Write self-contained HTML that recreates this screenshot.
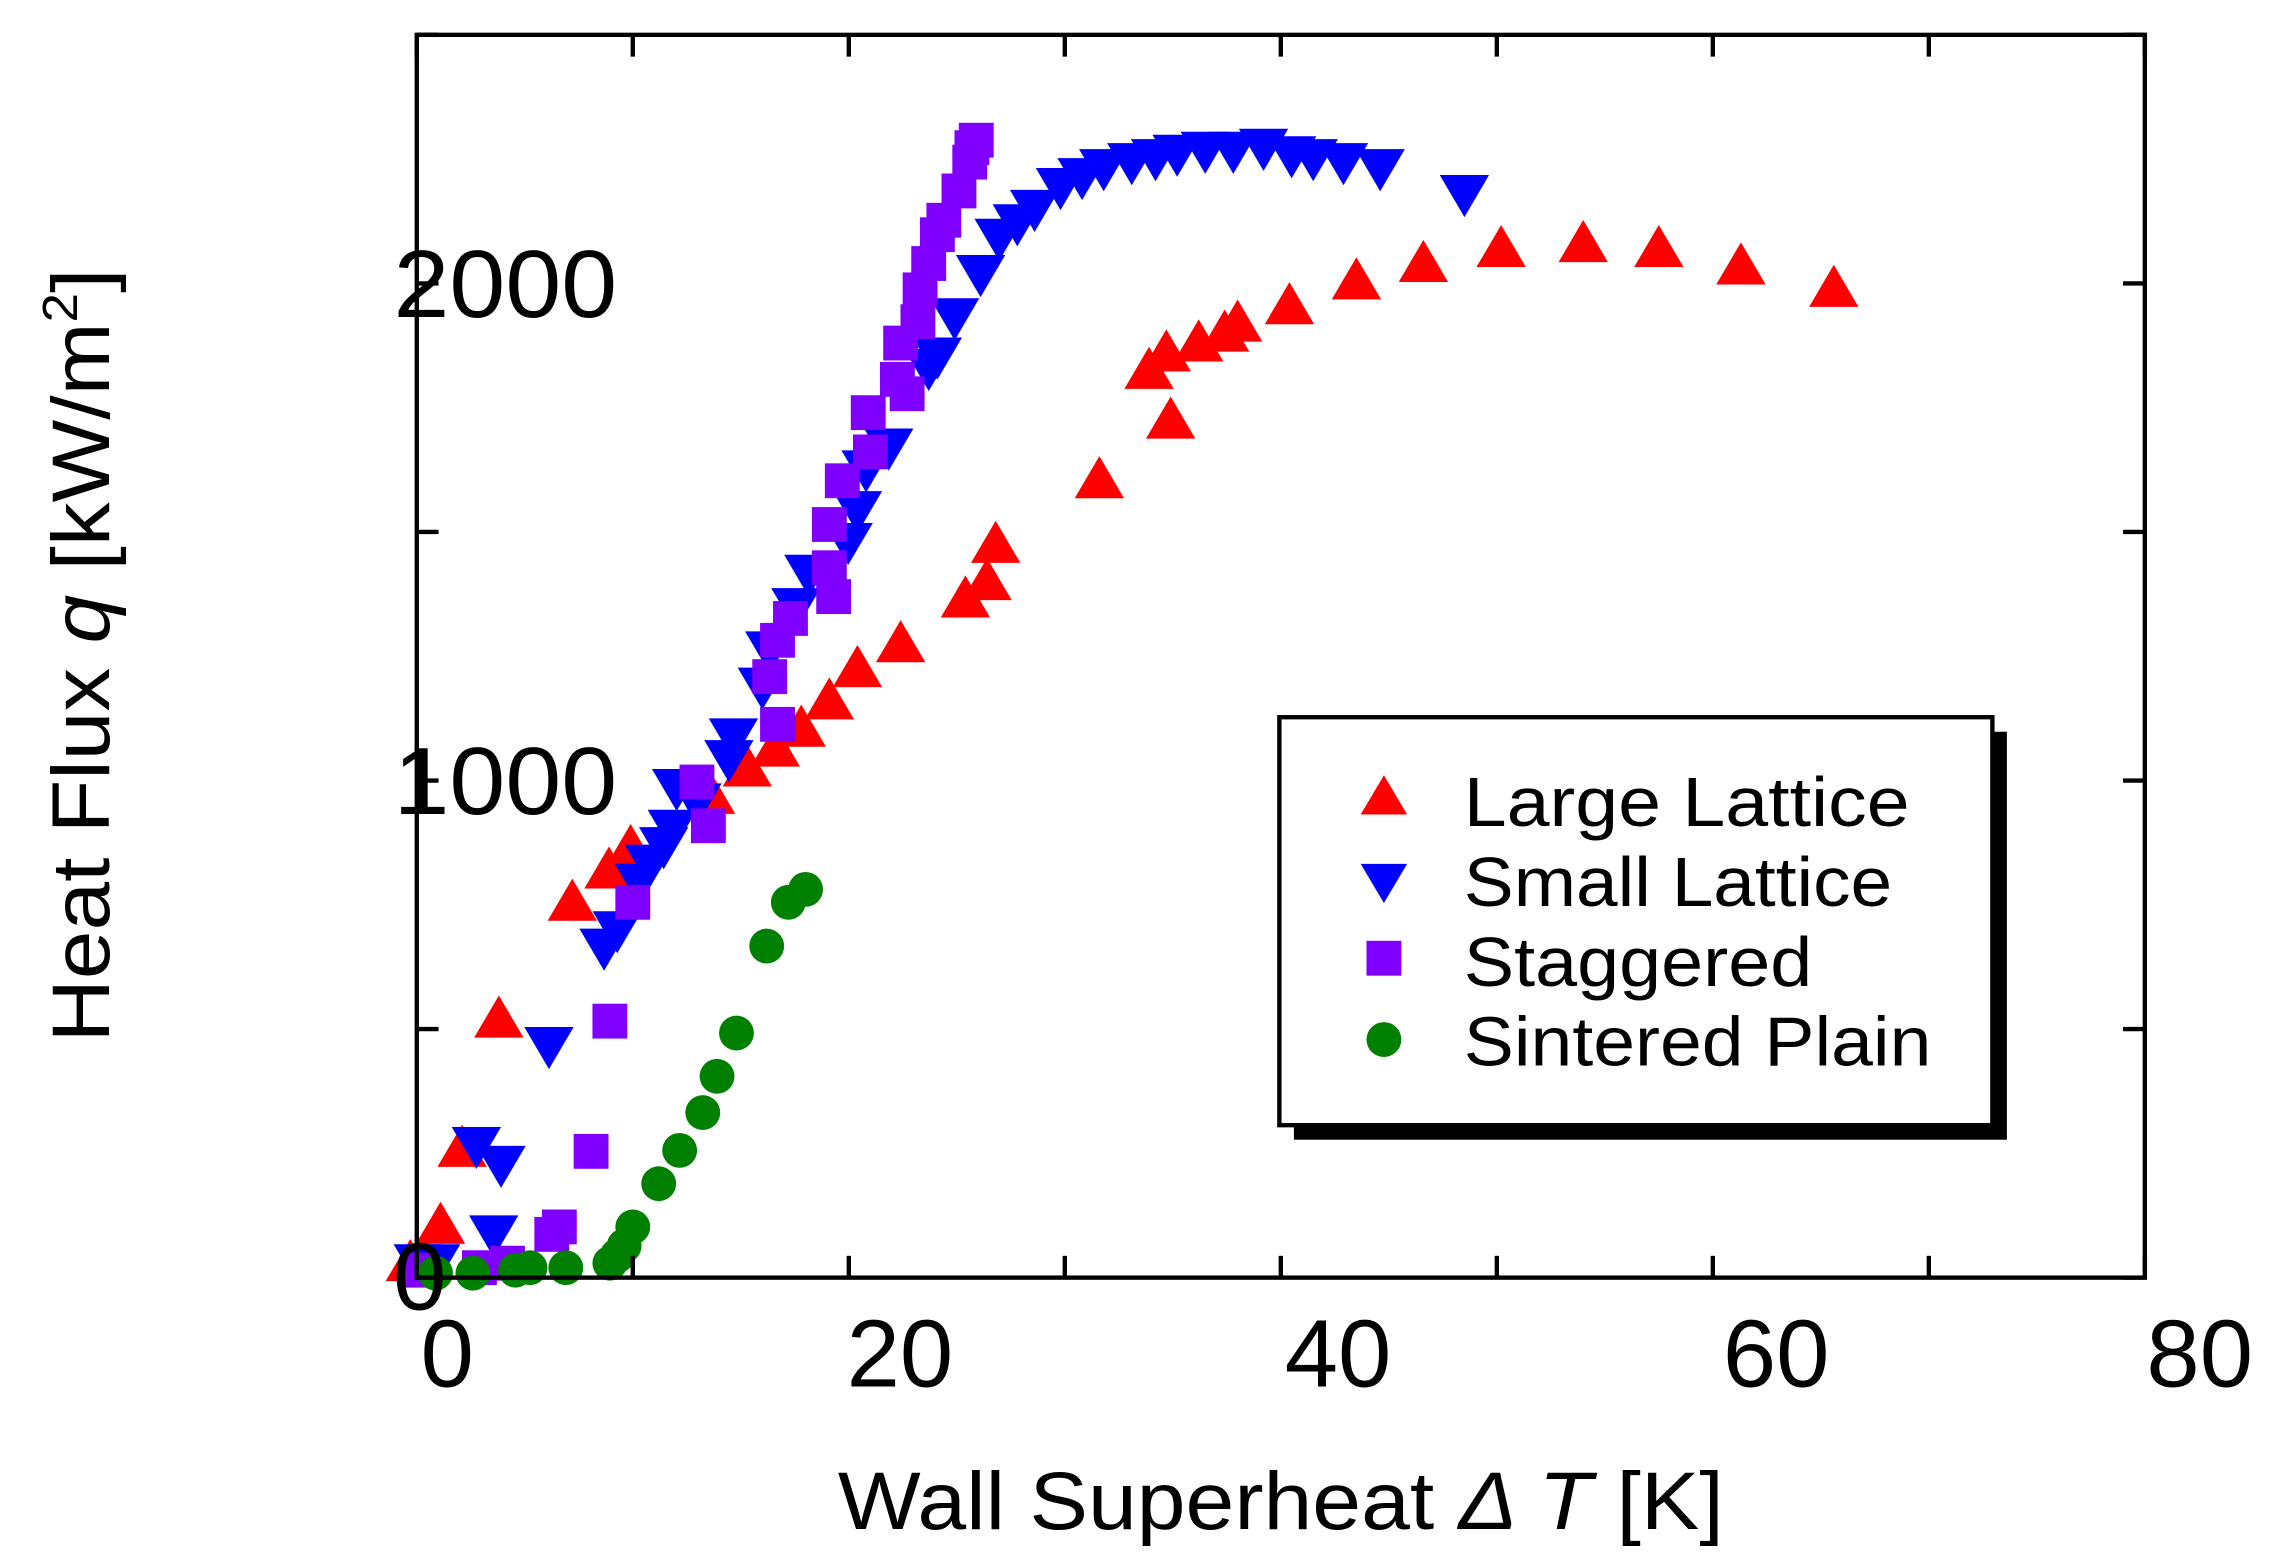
<!DOCTYPE html>
<html><head><meta charset="utf-8">
<style>html,body{margin:0;padding:0;background:#fff;}svg{display:block;}</style></head>
<body>
<svg id="chart" width="2277" height="1568" viewBox="0 0 1568 1080" preserveAspectRatio="none" xmlns="http://www.w3.org/2000/svg" font-family="Liberation Sans, Arial, sans-serif">
<rect x="0" y="0" width="1568" height="1080" fill="#fff"/>
<g id="marks"></g>
<rect x="287" y="24" width="1190" height="856" fill="none" stroke="#000" stroke-width="3"/>
<g id="axes"></g>
<text x="577" y="1053" font-size="56" textLength="610" lengthAdjust="spacingAndGlyphs">Wall Superheat <tspan font-style="italic">Δ T</tspan> [K]</text>
<text transform="translate(75,718) rotate(-90)" font-size="56" textLength="533" lengthAdjust="spacingAndGlyphs">Heat Flux <tspan font-style="italic">q</tspan> [kW/m<tspan font-size="34" dy="-22">2</tspan><tspan dy="22">]</tspan></text>
<g>
<rect x="891" y="504" width="491" height="281" fill="#000"/>
<rect x="881" y="494" width="491" height="281" fill="#fff" stroke="#000" stroke-width="3"/>
<polygon points="953,534 969,561 937,561" fill="#ff0000"/>
<text x="1008" y="569" font-size="48" textLength="307" lengthAdjust="spacingAndGlyphs">Large Lattice</text>
<polygon points="937,595 969,595 953,622" fill="#0000ff"/>
<text x="1008" y="624" font-size="48" textLength="295" lengthAdjust="spacingAndGlyphs">Small Lattice</text>
<rect x="941" y="648" width="24" height="24" fill="#8000ff"/>
<text x="1008" y="679" font-size="48" textLength="240" lengthAdjust="spacingAndGlyphs">Staggered</text>
<circle cx="953" cy="716" r="12" fill="#008000"/>
<text x="1008" y="734" font-size="48" textLength="322" lengthAdjust="spacingAndGlyphs">Sintered Plain</text>
</g>
</svg>
<script>
const largeX=[-0.3,1.1,2.1,3.8,7.2,8.9,9.9,13.6,15.3,16.6,17.8,19.1,20.4,22.4,25.4,26.4,26.8,31.6,33.9,34.7,34.9,36.2,37.4,38.0,40.4,43.5,46.6,50.2,54.0,57.5,61.3,65.6];
const largeY=[25,100,255,515,750,815,860,965,1020,1060,1100,1155,1220,1270,1360,1395,1470,1600,1820,1855,1720,1875,1895,1915,1950,2000,2035,2065,2075,2065,2030,1985];
const smallX=[0.07,0.87,2.76,3.9,3.56,6.12,8.67,9.28,10.3,10.76,11.43,11.83,12.03,12.97,14.45,14.66,16.0,16.34,17.55,18.15,19.97,20.4,20.8,21.85,23.7,24.1,24.9,26.1,26.96,27.8,28.6,29.8,30.8,31.8,33.1,34.2,35.2,36.5,37.8,39.2,40.5,41.5,42.9,44.6,48.5];
const smallY=[35,35,271,233,93,472,670,705,801,839,874,909,991,962,1049,1093,1195,1268,1355,1422,1486,1550,1632,1676,1836,1859,1938,2025,2098,2127,2156,2200,2220,2238,2250,2258,2267,2273,2273,2279,2264,2258,2250,2238,2186];
const stagX=[0.2,2.9,4.2,6.25,6.6,8.07,8.94,10.0,12.97,13.5,16.7,16.34,16.7,17.3,19.3,19.1,19.1,19.7,21.0,20.9,22.25,22.4,22.7,23.2,23.3,23.7,24.1,24.4,25.1,25.6,25.7,25.9];
const stagY=[15,20,29,87,102,254,516,755,997,909,1113,1209,1282,1326,1370,1428,1515,1603,1661,1740,1807,1880,1778,1923,1987,2040,2098,2127,2186,2244,2273,2288];
const sintX=[0.87,2.6,4.57,5.24,6.9,8.94,9.28,9.6,10.0,11.2,12.17,13.24,13.9,14.8,16.2,17.2,18.0];
const sintY=[9,9,15,20,20,29,44,64,102,189,256,332,405,492,667,755,781];
const xTicks=[0,10,20,30,40,50,60,70,80];
const xLabels=["0","20","40","60","80"];
const xLabelVals=[0,20,40,60,80];
const yTicks=[0,500,1000,1500,2000,2500];
const yLabels=["0","1000","2000"];
const yLabelVals=[0,1000,2000];

const NS="http://www.w3.org/2000/svg";
const X0=287,X1=1477,Y0=880,Y1=24;
function sx(v){return X0+(v-0)/(80-0)*(X1-X0);}
function sy(v){return Y0-(v-0)/(2500-0)*(Y0-Y1);}
function mk(tag,attrs,parent){const e=document.createElementNS(NS,tag);for(const k in attrs)e.setAttribute(k,attrs[k]);parent.appendChild(e);return e;}
const marks=document.getElementById('marks');
const axes=document.getElementById('axes');

for(let i=0;i<largeX.length;i++){const x=sx(largeX[i]),y=sy(largeY[i]);
 const p=mk('polygon',{points:`${x},${y-18} ${x+17},${y+11} ${x-17},${y+11}`,fill:'#ff0000'},marks);
 
 }
for(let i=0;i<smallX.length;i++){const x=sx(smallX[i]),y=sy(smallY[i]);
 const p=mk('polygon',{points:`${x-17},${y-11} ${x+17},${y-11} ${x},${y+18}`,fill:'#0000ff'},marks);
 
 }
for(let i=0;i<stagX.length;i++){const x=sx(stagX[i]),y=sy(stagY[i]);
 const p=mk('rect',{x:x-12,y:y-12,width:24,height:24,fill:'#8000ff'},marks);
 
 }
for(let i=0;i<sintX.length;i++){const x=sx(sintX[i]),y=sy(sintY[i]);
 const p=mk('circle',{cx:x,cy:y,r:12,fill:'#008000'},marks);
 
 }

xTicks.forEach(v=>{const x=sx(v);
 const t1=mk('line',{x1:x,y1:Y0,x2:x,y2:Y0-15,stroke:'#000','stroke-width':3},axes);
 
 
 const t2=mk('line',{x1:x,y1:Y1,x2:x,y2:Y1+15,stroke:'#000','stroke-width':3},axes);
 
 });
yTicks.forEach(v=>{const y=sy(v);
 const t1=mk('line',{x1:X0,y1:y,x2:X0+15,y2:y,stroke:'#000','stroke-width':3},axes);
 
 
 const t2=mk('line',{x1:X1,y1:y,x2:X1-15,y2:y,stroke:'#000','stroke-width':3},axes);
 
 });
xLabels.forEach((s,i)=>{const v=xLabelVals[i];
 const t=mk('text',{x:sx(v)+21+v*0.21+(v>0&&v<80?10:0),y:955,'font-size':66,'text-anchor':'middle'},axes);
 t.textContent=s;
 
 });
yLabels.forEach((s,i)=>{const v=yLabelVals[i];
 const t=v===0?mk('text',{x:289,y:sy(v)+22,'font-size':66,'text-anchor':'middle'},axes)
 :mk('text',{x:271,y:sy(v)+23,'font-size':66,textLength:154,lengthAdjust:'spacingAndGlyphs'},axes);
 t.textContent=s;
 
 });
</script>
</body></html>
